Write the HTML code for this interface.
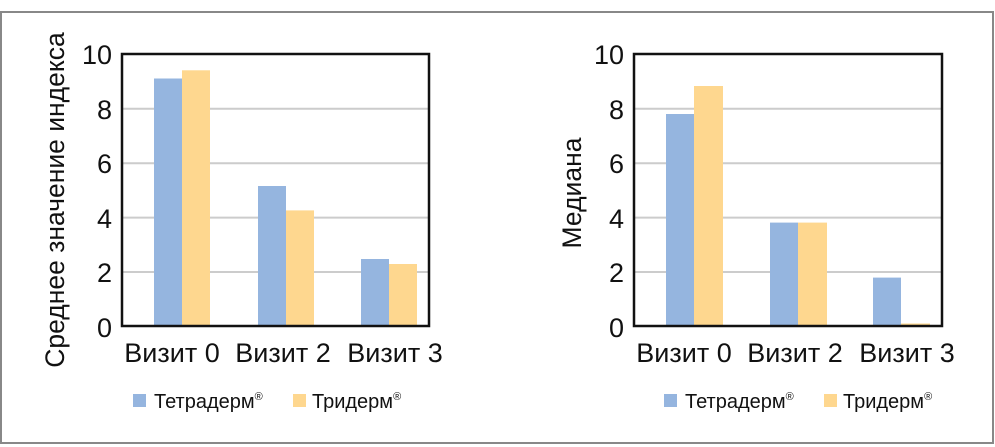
<!DOCTYPE html>
<html><head><meta charset="utf-8"><style>
body{margin:0;background:#fff}
svg{display:block}
text{font-family:"Liberation Sans",sans-serif;fill:#111}
</style></head><body>
<svg width="995" height="447" viewBox="0 0 995 447">
<rect x="1" y="12" width="992" height="431" fill="#fff" stroke="#888" stroke-width="2"/>
<g>
<g stroke="#ccc" stroke-width="2">
<line x1="122" x2="429" y1="108.8" y2="108.8"/><line x1="122" x2="429" y1="163.2" y2="163.2"/>
<line x1="122" x2="429" y1="217.6" y2="217.6"/><line x1="122" x2="429" y1="272" y2="272"/>
</g>
<rect x="154" y="78.5" width="28" height="247.5" fill="#95b5df"/>
<rect x="182" y="70.3" width="28" height="255.7" fill="#fed78f"/>
<rect x="258" y="186" width="28" height="140" fill="#95b5df"/>
<rect x="286" y="210.4" width="28" height="115.6" fill="#fed78f"/>
<rect x="361" y="259" width="28" height="67" fill="#95b5df"/>
<rect x="389" y="264" width="28" height="62" fill="#fed78f"/>
<rect x="122" y="54" width="307" height="272" fill="none" stroke="#111" stroke-width="2.5"/>
<g font-size="27" text-anchor="end">
<text x="112" y="64">10</text><text x="112" y="119">8</text><text x="112" y="173">6</text>
<text x="112" y="228">4</text><text x="112" y="282">2</text><text x="112" y="337">0</text>
</g>
<g font-size="27" text-anchor="middle">
<text x="172" y="362">Визит 0</text><text x="283" y="362">Визит 2</text><text x="395" y="362">Визит 3</text>
</g>
<rect x="133" y="394" width="13" height="13" fill="#95b5df"/>
<text x="154" y="408" font-size="20">Тетрадерм<tspan font-size="11" dy="-8">®</tspan></text>
<rect x="293" y="394" width="13" height="13" fill="#fed78f"/>
<text x="312" y="408" font-size="20">Тридерм<tspan font-size="11" dy="-8">®</tspan></text>
</g>
<text transform="translate(64,200) rotate(-90)" font-size="26.5" text-anchor="middle">Среднее значение индекса</text>
<g>
<g stroke="#ccc" stroke-width="2">
<line x1="634" x2="942" y1="108.8" y2="108.8"/><line x1="634" x2="942" y1="163.2" y2="163.2"/>
<line x1="634" x2="942" y1="217.6" y2="217.6"/><line x1="634" x2="942" y1="272" y2="272"/>
</g>
<rect x="666" y="114" width="28" height="212" fill="#95b5df"/>
<rect x="694" y="86" width="29" height="240" fill="#fed78f"/>
<rect x="770" y="222.6" width="28" height="103.4" fill="#95b5df"/>
<rect x="798" y="222.6" width="29" height="103.4" fill="#fed78f"/>
<rect x="873" y="277.6" width="28" height="48.4" fill="#95b5df"/>
<rect x="901" y="323.5" width="29" height="2.5" fill="#fed78f"/>
<rect x="634" y="54" width="308" height="272" fill="none" stroke="#111" stroke-width="2.5"/>
<g font-size="27" text-anchor="end">
<text x="624" y="64">10</text><text x="624" y="119">8</text><text x="624" y="173">6</text>
<text x="624" y="228">4</text><text x="624" y="282">2</text><text x="624" y="337">0</text>
</g>
<g font-size="27" text-anchor="middle">
<text x="684" y="362">Визит 0</text><text x="795" y="362">Визит 2</text><text x="907" y="362">Визит 3</text>
</g>
<rect x="664" y="394" width="13" height="13" fill="#95b5df"/>
<text x="685" y="408" font-size="20">Тетрадерм<tspan font-size="11" dy="-8">®</tspan></text>
<rect x="824" y="394" width="13" height="13" fill="#fed78f"/>
<text x="843" y="408" font-size="20">Тридерм<tspan font-size="11" dy="-8">®</tspan></text>
</g>
<text transform="translate(581,193) rotate(-90)" font-size="26.5" text-anchor="middle">Медиана</text>
</svg>
</body></html>
